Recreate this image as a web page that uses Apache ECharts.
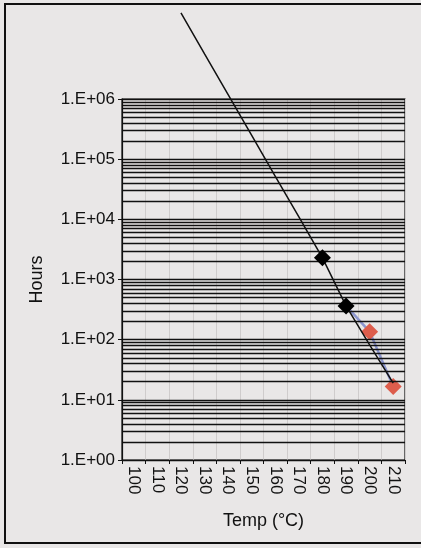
<!DOCTYPE html>
<html><head><meta charset="utf-8">
<script src="https://cdn.jsdelivr.net/npm/echarts@6/dist/echarts.min.js"></script>
<style>html,body{margin:0;padding:0;background:#e9e7e7;}#c{width:421px;height:548px;}</style>
</head><body><div id="c"></div>
<script>
var temps = ['100','110','120','130','140','150','160','170','180','190','200','210'];
var trendLine = [null, null, 2.69e7, 5.6e6, 1.18e6, 2.48e5, 5.2e4, 1.1e4, 2290, 364, 82, 19];
var blackPoints = [null, null, null, null, null, null, null, null, 2290, 364, null, null];
var redPoints = [null, null, null, null, null, null, null, null, null, null, 136, 16.6];
var blueLine = [null, null, null, null, null, null, null, null, null, 364, 136, 16.6];
var yTicks = [1, 10, 100, 1000, 10000, 100000, 1000000];

var gridVals = [];
for (var k = 0; k < 6; k++) { for (var m = 1; m <= 9; m++) gridVals.push(m * Math.pow(10, k)); }
gridVals.push(1e6);

var font = 'Liberation Sans';
var diamond = 'path://M0,-1L1,0L0,1L-1,0Z';
var chart = echarts.init(document.getElementById('c'));
chart.setOption({
  backgroundColor: '#e9e7e7',
  animation: false,
  graphic: [{ type: 'rect', shape: { x: 5, y: 4, width: 440, height: 539 }, style: { fill: null, stroke: '#111', lineWidth: 2 }, z: 100 }],
  grid: { left: 122, right: 16, top: 99, bottom: 88, show: true, borderColor: '#111', borderWidth: 1.2, backgroundColor: 'transparent' },
  xAxis: {
    type: 'category', data: temps, boundaryGap: true,
    name: 'Temp (°C)', nameLocation: 'middle', nameGap: 52,
    nameTextStyle: { fontFamily: font, fontSize: 18, color: '#111' },
    axisLine: { lineStyle: { color: '#111', width: 1.2 } },
    axisTick: { show: true, length: 4, lineStyle: { color: '#111' } },
    axisLabel: { rotate: -90, fontFamily: font, fontSize: 17, color: '#111', margin: 6 },
    splitLine: { show: true, lineStyle: { color: '#cfcccc', width: 1 } }
  },
  yAxis: {
    type: 'log', logBase: 10, min: 1, max: 1e6, splitNumber: 6,
    name: 'Hours', nameLocation: 'middle', nameGap: 76,
    nameTextStyle: { fontFamily: font, fontSize: 18, color: '#111' },
    axisLine: { show: true, lineStyle: { color: '#111', width: 1.2 } },
    axisTick: { show: true, length: 4, lineStyle: { color: '#111' } },
    axisLabel: { fontFamily: font, fontSize: 17, color: '#111', margin: 7,
      formatter: function (v) { var e = Math.round(Math.log10(v)); return '1.E+' + (e < 10 ? '0' : '') + e; } },
    splitLine: { show: false }
  },
  series: [
    { type: 'line', data: blueLine, showSymbol: false, symbol: 'none', lineStyle: { color: '#8c96cf', width: 2.5 }, z: 2,
      markLine: { silent: true, symbol: 'none', label: { show: false }, animation: false,
        lineStyle: { color: '#111', width: 1.3, type: 'solid' },
        data: gridVals.map(function (v) { return { yAxis: v }; }) } },
    { type: 'scatter', data: redPoints, symbol: diamond, symbolSize: 17, itemStyle: { color: '#dd5d4c', opacity: 1 }, z: 3 },
    { type: 'line', data: trendLine, clip: false, showSymbol: false, symbol: 'none', lineStyle: { color: '#111', width: 1.5 }, z: 4 },
    { type: 'scatter', data: blackPoints, symbol: diamond, symbolSize: 17, itemStyle: { color: '#000', opacity: 1 }, z: 5 }
  ]
});
</script></body></html>
